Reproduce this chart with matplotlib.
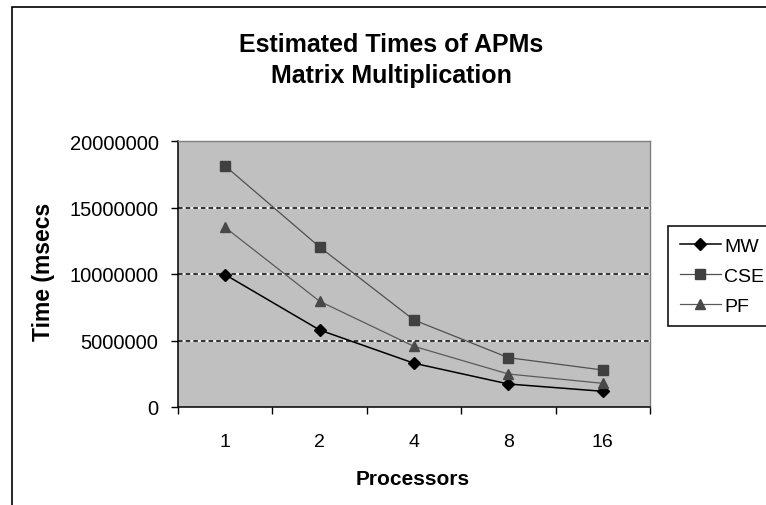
import matplotlib
matplotlib.use("Agg")
import matplotlib.pyplot as plt
from matplotlib.patches import Rectangle

# Values (msecs)
processors = ["1", "2", "4", "8", "16"]
mw = [9950000, 5790000, 3290000, 1730000, 1180000]
cse = [18120000, 12030000, 6540000, 3710000, 2780000]
pf = [13500000, 7950000, 4560000, 2480000, 1780000]
y_ticks = [0, 5000000, 10000000, 15000000, 20000000]

plt.rcParams["font.family"] = ["Liberation Sans", "DejaVu Sans"]

W, H = 766, 506
fig = plt.figure(figsize=(W / 100, H / 100), dpi=100)
fig.patch.set_facecolor("white")

# outer chart border (runs off the right and bottom of the picture)
fig.patches.append(Rectangle((12 / W, -0.2), 1.2, 1.2 - 8 / H,
                             transform=fig.transFigure, fill=False,
                             edgecolor="black", linewidth=1.2))

left, right, top, bottom = 178, 650, 142, 408
ax = fig.add_axes([left / W, 1 - bottom / H, (right - left) / W, (bottom - top) / H])
ax.set_facecolor("#c0c0c0")

x = list(range(len(processors)))

# dashed grid lines with white gaps
for yv in y_ticks[1:-1]:
    ax.axhline(yv, color="white", linewidth=1.1, zorder=1)
    ax.axhline(yv, color="black", linewidth=1.1, dashes=(3, 2), zorder=1.5)

ax.plot(x, mw, color="black", linewidth=1.1, marker="D", markersize=6.5,
        markerfacecolor="black", markeredgecolor="black", label="MW", zorder=3)
ax.plot(x, cse, color="#505050", linewidth=0.9, marker="s", markersize=7,
        markerfacecolor="#404040", markeredgecolor="#404040", label="CSE", zorder=3)
ax.plot(x, pf, color="#5a5a5a", linewidth=0.9, marker="^", markersize=7.5,
        markerfacecolor="#484848", markeredgecolor="#484848", label="PF", zorder=3)

ax.set_xlim(-0.5, len(processors) - 0.5)
ax.set_ylim(0, 20000000)
ax.set_yticks(y_ticks)
ax.set_yticklabels([str(v) for v in y_ticks])
ax.set_xticks(x)
ax.set_xticklabels(processors)
ax.set_xticks([i - 0.5 for i in range(len(processors) + 1)], minor=True)
ax.tick_params(axis="x", which="major", length=0, pad=19, labelsize=14)
ax.tick_params(axis="x", which="minor", length=5, width=1, direction="out")
ax.tick_params(axis="y", which="major", length=5, width=1, direction="out",
               pad=9, labelsize=14.5)

for side in ["left", "bottom"]:
    ax.spines[side].set_color("black")
    ax.spines[side].set_linewidth(1.1)
for side in ["top", "right"]:
    ax.spines[side].set_color("#808080")
    ax.spines[side].set_linewidth(1.0)

ax.set_xlabel("Processors", fontsize=15, fontweight="bold")
ax.xaxis.set_label_coords(0.498, (bottom - 480) / (bottom - top))
ax.xaxis.label.set_va("center")
ax.set_ylabel("Time (msecs", fontsize=16.5, fontweight="bold")
ax.yaxis.set_label_coords((43 - left) / (right - left), 0.51)
ax.yaxis.label.set_va("center")

fig.text(391 / W, 1 - 44.5 / H, "Estimated Times of APMs", ha="center", va="center",
         fontsize=18, fontweight="bold")
fig.text(391 / W, 1 - 76 / H, "Matrix Multiplication", ha="center", va="center",
         fontsize=18, fontweight="bold")

leg = ax.legend(loc="upper left", bbox_to_anchor=(668 / W, 1 - 227 / H),
                bbox_transform=fig.transFigure, borderaxespad=0, fontsize=14,
                frameon=True, fancybox=False, edgecolor="black", borderpad=0.6,
                handlelength=2.1, handletextpad=0.2, labelspacing=0.62)
leg.get_frame().set_linewidth(1.1)
leg.get_frame().set_facecolor("white")
leg.get_frame().set_alpha(1)

fig.savefig("out.png", dpi=100)
